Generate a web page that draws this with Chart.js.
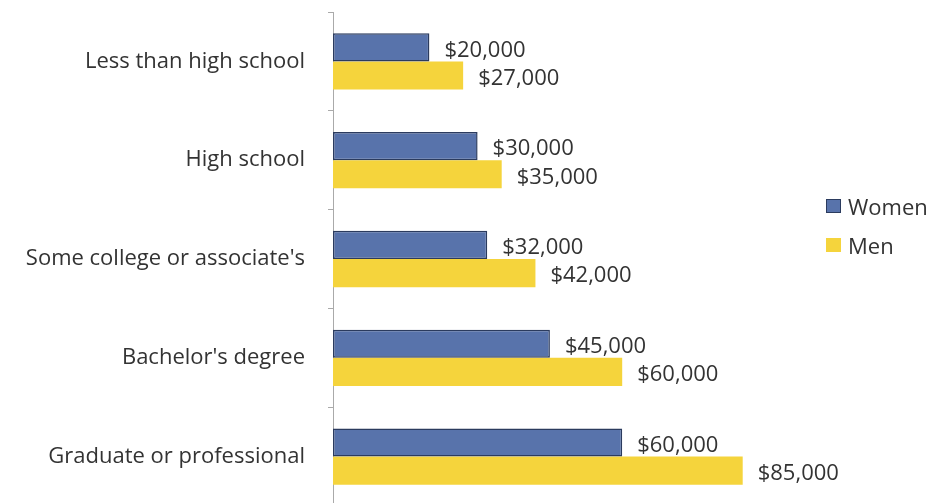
<!DOCTYPE html>
<html>
<head>
<meta charset="utf-8">
<script src="https://cdn.jsdelivr.net/npm/chart.js@4.4.1/dist/chart.umd.min.js"></script>
<style>
  html, body { margin: 0; padding: 0; background: #fff; overflow: hidden; }
  #wrap { position: relative; width: 940px; height: 510px; }
  .leyenda { position: absolute; left: 826px; font: 22px "Open Sans", sans-serif; color: #333; display: flex; align-items: center; }
  .leyenda span.caja { display: inline-block; width: 15px; height: 14px; margin-right: 7px; box-sizing: border-box; }
</style>
</head>
<body>
<div id="wrap">
  <canvas id="grafico" width="940" height="510"></canvas>
  <div class="leyenda" style="top:191px"><span class="caja" style="background:#5873ab;border:1px solid #2b3b5e"></span>Women</div>
  <div class="leyenda" style="top:230px"><span class="caja" style="background:#f5d43c"></span>Men</div>
</div>
<script>
const categorias = ['Less than high school', 'High school', "Some college or associate's", "Bachelor's degree", 'Graduate or professional'];
const mujeres = [20000, 30000, 32000, 45000, 60000];
const hombres = [27000, 35000, 42000, 60000, 85000];

const fuente = '"Open Sans", sans-serif';

// etiquetas de valor al final de cada barra
const etiquetasValor = {
  id: 'etiquetasValor',
  afterDatasetsDraw(chart) {
    const ctx = chart.ctx;
    ctx.save();
    ctx.font = '22px ' + fuente;
    ctx.fillStyle = '#333';
    ctx.textAlign = 'left';
    ctx.textBaseline = 'middle';
    chart.data.datasets.forEach((ds, i) => {
      chart.getDatasetMeta(i).data.forEach((bar, j) => {
        const txt = '$' + ds.data[j].toLocaleString('en-US');
        ctx.fillText(txt, bar.x + 15, bar.y + 3);
      });
    });
    ctx.restore();
  }
};

new Chart(document.getElementById('grafico'), {
  type: 'bar',
  data: {
    labels: categorias,
    datasets: [
      {
        label: 'Women',
        data: mujeres,
        backgroundColor: '#5873ab',
        borderColor: '#2b3b5e',
        borderWidth: 1.5,
        borderSkipped: false
      },
      {
        label: 'Men',
        data: hombres,
        backgroundColor: '#f5d43c',
        borderWidth: 0
      }
    ]
  },
  options: {
    indexAxis: 'y',
    responsive: false,
    animation: false,
    categoryPercentage: 0.57,
    barPercentage: 1.0,
    layout: { padding: { top: 12, bottom: 4, right: 125, left: 0 } },
    plugins: {
      legend: { display: false },
      tooltip: { enabled: false }
    },
    scales: {
      x: { display: false, min: 0, max: 100000 },
      y: {
        afterFit(s) { s.width = 333; s.paddingTop = 0; s.paddingBottom = 0; },
        border: { color: '#aaa', width: 1 },
        grid: { drawOnChartArea: false, tickLength: 5, color: '#aaa', offset: true },
        ticks: { color: '#333', font: { size: 22, family: fuente }, padding: 23 }
      }
    }
  },
  plugins: [etiquetasValor]
});
</script>
</body>
</html>
